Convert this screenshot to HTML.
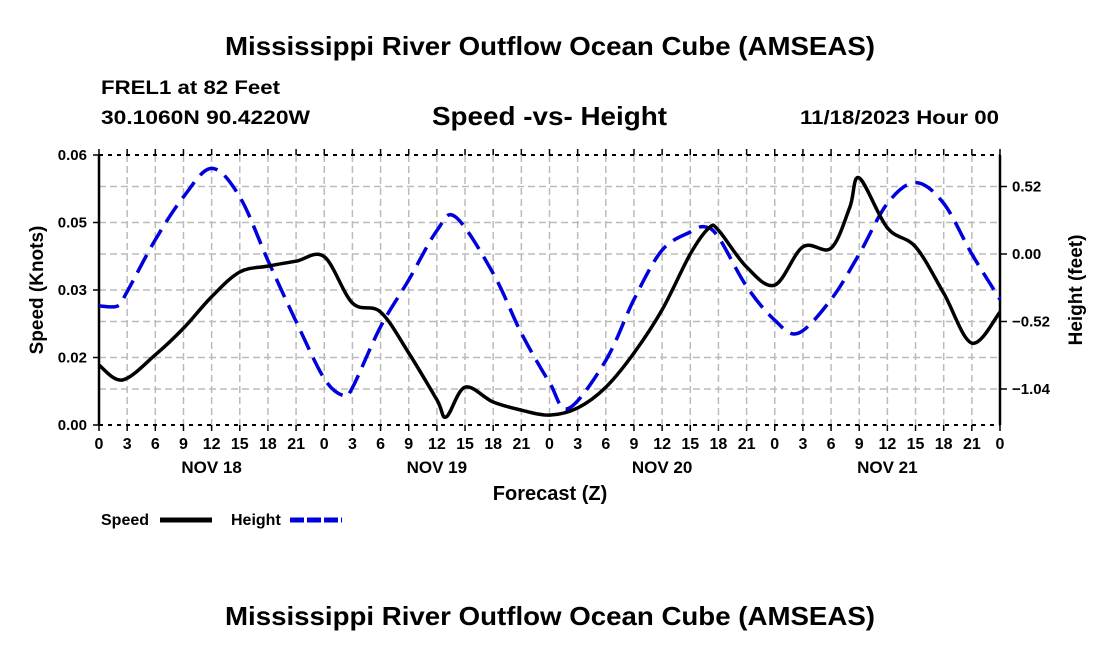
<!DOCTYPE html>
<html><head><meta charset="utf-8"><style>
body{margin:0;background:#fff;}
svg text{font-family:"Liberation Sans",Arial,sans-serif;font-weight:bold;fill:#000;}
</style></head><body>
<svg id="chart" width="1100" height="650" viewBox="0 0 1100 650" xmlns="http://www.w3.org/2000/svg">
<text x="225" y="55" font-size="26" textLength="650" lengthAdjust="spacingAndGlyphs">Mississippi River Outflow Ocean Cube (AMSEAS)</text>
<text x="101" y="94" font-size="19" textLength="179" lengthAdjust="spacingAndGlyphs">FREL1 at 82 Feet</text>
<text x="101" y="124" font-size="19" textLength="209" lengthAdjust="spacingAndGlyphs">30.1060N  90.4220W</text>
<text x="432" y="125" font-size="26" textLength="235" lengthAdjust="spacingAndGlyphs">Speed -vs- Height</text>
<text x="800" y="124" font-size="19" textLength="199" lengthAdjust="spacingAndGlyphs">11/18/2023 Hour 00</text>
<g id="grid"></g>
<g id="axes"></g>
<g id="series"></g>
<text transform="translate(43,290) rotate(-90)" font-size="19" text-anchor="middle">Speed (Knots)</text>
<text transform="translate(1082,290) rotate(-90)" font-size="19" text-anchor="middle">Height (feet)</text>
<text x="550" y="500" font-size="20" text-anchor="middle">Forecast (Z)</text>
<g>
<text x="101" y="525" font-size="16">Speed</text>
<line x1="160" y1="520" x2="212" y2="520" stroke="#000" stroke-width="5"/>
<text x="231" y="525" font-size="16">Height</text>
<line x1="290" y1="520" x2="342" y2="520" stroke="#0000dd" stroke-width="5" stroke-dasharray="14,3"/>
</g>
<text x="225" y="625" font-size="26" textLength="650" lengthAdjust="spacingAndGlyphs">Mississippi River Outflow Ocean Cube (AMSEAS)</text>
</svg>
<script>
const speedHours=[0,2.5,6,9,12,15,18,21,24,27,30,33,36,37,39,42,45,48,51,54,57,60,63,65,66,69,72,75,78,80,81,84,87,90,93,96];
const speedVals=[0.0133,0.010,0.0156,0.0215,0.0285,0.034,0.0353,0.0364,0.0374,0.0271,0.0251,0.016,0.0056,0.0018,0.0084,0.0051,0.0033,0.0022,0.0038,0.0084,0.016,0.0256,0.038,0.0438,0.0433,0.0351,0.0311,0.0396,0.0393,0.0484,0.0549,0.0438,0.0396,0.0293,0.0182,0.0251];
const heightHours=[0,2,3,6,9,12,15,18,21,24,26,27,30,33,36,38,42,45,48,50,54,57,60,63,64.5,66,69,72,74.5,78,81,84,87,90,93,96];
const heightVals=[-0.40,-0.40,-0.29,0.11,0.44,0.66,0.44,-0.05,-0.52,-0.96,-1.09,-1.03,-0.56,-0.2,0.18,0.285,-0.15,-0.61,-0.99,-1.19,-0.82,-0.35,0.03,0.17,0.21,0.13,-0.25,-0.51,-0.61,-0.35,0.0,0.39,0.55,0.39,0.0,-0.35];
const xTickLabels=['0','3','6','9','12','15','18','21'];
const dayLabels=['NOV 18','NOV 19','NOV 20','NOV 21'];
const leftTicks=[0,0.015,0.03,0.045,0.06];
const leftTickLabels=['0.00','0.02','0.03','0.05','0.06'];
const rightTicks=[0.52,0,-0.52,-1.04];
const rightTickLabels=['0.52','0.00','\u22120.52','\u22121.04'];

const X0=99,X1=1000,YT=155,YB=425;
const xS=h=>X0+h/96*(X1-X0);
const yL=v=>YB-v/0.06*(YB-YT);
const yR=v=>254-v*(67.5/0.52);
const NS='http://www.w3.org/2000/svg';
function mk(tag,attrs,parent){const e=document.createElementNS(NS,tag);for(const k in attrs)e.setAttribute(k,attrs[k]);parent.appendChild(e);return e;}
const grid=document.getElementById('grid'),axes=document.getElementById('axes'),series=document.getElementById('series');
for(let h=3;h<96;h+=3){const g=mk('line',{x1:xS(h),x2:xS(h),y1:YT,y2:YB,stroke:'#bbb','stroke-width':1.5,'stroke-dasharray':'7,4'},grid);

}
leftTicks.forEach(v=>{if(v>0&&v<0.06){const g=mk('line',{x1:X0,x2:X1,y1:yL(v),y2:yL(v),stroke:'#bbb','stroke-width':1.5,'stroke-dasharray':'7,4'},grid);

}});
rightTicks.forEach(v=>{const g=mk('line',{x1:X0,x2:X1,y1:yR(v),y2:yR(v),stroke:'#bbb','stroke-width':1.5,'stroke-dasharray':'7,4'},grid);

});
let f=mk('line',{x1:X0,x2:X0,y1:YT,y2:YB,stroke:'#000','stroke-width':2.5},axes);


f=mk('line',{x1:X1,x2:X1,y1:YT,y2:YB,stroke:'#000','stroke-width':2.5},axes);


f=mk('line',{x1:X0,x2:X1,y1:YT,y2:YT,stroke:'#000','stroke-width':2,'stroke-dasharray':'4,5'},axes);


f=mk('line',{x1:X0,x2:X1,y1:YB,y2:YB,stroke:'#000','stroke-width':2,'stroke-dasharray':'4,5'},axes);


for(let h=0;h<=96;h+=3){
 mk('line',{x1:xS(h),x2:xS(h),y1:YB,y2:YB+6,stroke:'#000','stroke-width':1.5},axes);
 mk('line',{x1:xS(h),x2:xS(h),y1:YT,y2:YT-6,stroke:'#000','stroke-width':1.5},axes);
 const t=mk('text',{x:xS(h),y:YB+24,'font-size':16,'text-anchor':'middle'},axes);
 
 
 t.textContent=xTickLabels[(h/3)%8];
}
dayLabels.forEach((d,i)=>{const t=mk('text',{x:xS(12+24*i),y:YB+48,'font-size':17,'text-anchor':'middle'},axes);


t.textContent=d;});
leftTicks.forEach((v,i)=>{mk('line',{x1:X0-6,x2:X0,y1:yL(v),y2:yL(v),stroke:'#000','stroke-width':1.5},axes);
const t=mk('text',{x:X0-12,y:yL(v)+5,'font-size':15,'text-anchor':'end'},axes);


t.textContent=leftTickLabels[i];});
rightTicks.forEach((v,i)=>{mk('line',{x1:X1,x2:X1+7,y1:yR(v),y2:yR(v),stroke:'#000','stroke-width':1.5},axes);
const t=mk('text',{x:X1+12,y:yR(v)+5,'font-size':15},axes);


t.textContent=rightTickLabels[i];});
function smooth(pts){let d='M'+pts[0][0]+','+pts[0][1];for(let i=0;i<pts.length-1;i++){const p0=pts[i-1]||pts[i],p1=pts[i],p2=pts[i+1],p3=pts[i+2]||p2;
d+=' C'+(p1[0]+(p2[0]-p0[0])/6)+','+(p1[1]+(p2[1]-p0[1])/6)+' '+(p2[0]-(p3[0]-p1[0])/6)+','+(p2[1]-(p3[1]-p1[1])/6)+' '+p2[0]+','+p2[1];}return d;}
const hp=mk('path',{d:smooth(heightHours.map((h,i)=>[xS(h),yR(heightVals[i])])),fill:'none',stroke:'#0000dd','stroke-width':3.5,'stroke-dasharray':'20,9'},series);


const sp=mk('path',{d:smooth(speedHours.map((h,i)=>[xS(h),yL(speedVals[i])])),fill:'none',stroke:'#000','stroke-width':3.5},series);


</script>
</body></html>
